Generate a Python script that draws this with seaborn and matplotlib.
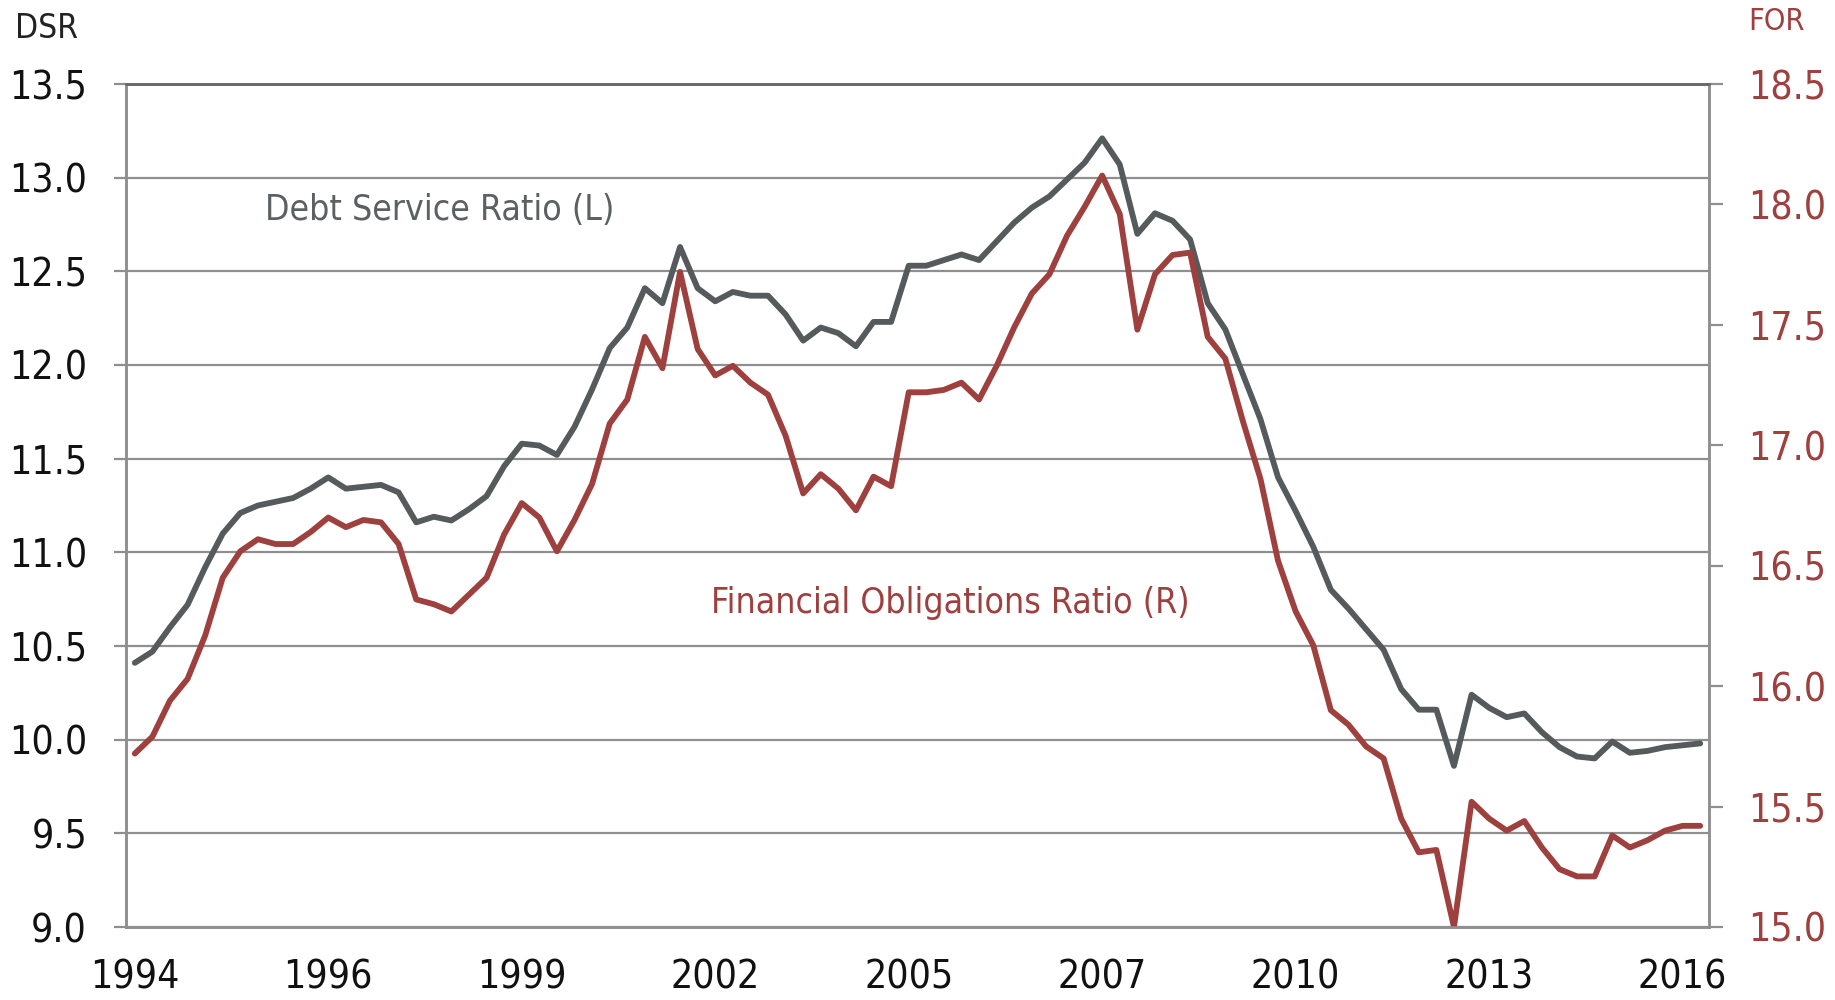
import numpy as np
import pandas as pd
import matplotlib
matplotlib.use("Agg")
import matplotlib.pyplot as plt
import seaborn as sns
from matplotlib import font_manager

# quarterly data, 1994Q1 .. 2016Q2
quarters = [f"{y}Q{q}" for y in range(1994, 2017) for q in range(1, 5)][:90]

dsr = [10.41, 10.47, 10.60, 10.72, 10.92, 11.10, 11.21, 11.25, 11.27, 11.29,
       11.34, 11.40, 11.34, 11.35, 11.36, 11.32, 11.16, 11.19, 11.17, 11.23,
       11.30, 11.46, 11.58, 11.57, 11.52, 11.67, 11.87, 12.09, 12.20, 12.41,
       12.33, 12.63, 12.41, 12.34, 12.39, 12.37, 12.37, 12.27, 12.13, 12.20,
       12.17, 12.10, 12.23, 12.23, 12.53, 12.53, 12.56, 12.59, 12.56, 12.66,
       12.76, 12.84, 12.90, 12.99, 13.08, 13.21, 13.07, 12.70, 12.81, 12.77,
       12.67, 12.33, 12.19, 11.95, 11.71, 11.40, 11.22, 11.03, 10.80, 10.70,
       10.59, 10.48, 10.27, 10.16, 10.16, 9.86, 10.24, 10.17, 10.12, 10.14,
       10.04, 9.96, 9.91, 9.90, 9.99, 9.93, 9.94, 9.96, 9.97, 9.98]

fo_ratio = [15.72, 15.79, 15.94, 16.03, 16.21, 16.45, 16.56, 16.61, 16.59, 16.59,
            16.64, 16.70, 16.66, 16.69, 16.68, 16.59, 16.36, 16.34, 16.31, 16.38,
            16.45, 16.63, 16.76, 16.70, 16.56, 16.69, 16.84, 17.09, 17.19, 17.45,
            17.32, 17.72, 17.40, 17.29, 17.33, 17.26, 17.21, 17.04, 16.80, 16.88,
            16.82, 16.73, 16.87, 16.83, 17.22, 17.22, 17.23, 17.26, 17.19, 17.33,
            17.49, 17.63, 17.71, 17.87, 17.99, 18.12, 17.96, 17.48, 17.71, 17.79,
            17.80, 17.45, 17.36, 17.10, 16.86, 16.52, 16.31, 16.17, 15.90, 15.84,
            15.75, 15.70, 15.45, 15.31, 15.32, 15.00, 15.52, 15.45, 15.40, 15.44,
            15.33, 15.24, 15.21, 15.21, 15.38, 15.33, 15.36, 15.40, 15.42, 15.42]

year_labels = ["1994", "1996", "1999", "2002", "2005", "2007", "2010", "2013", "2016"]
label_every = 11   # one year label every 11 quarters
tick_every = 6     # tick marks every 6 quarters

df = pd.DataFrame({"quarter": quarters, "DSR": dsr, "FOR": fo_ratio})
df["pos"] = np.arange(len(df)) + 0.5   # category centres

grey = "#555a5c"
red = "#9e403e"
gridc = "#8f8f8f"

sns.set_style("white")

# look for a condensed face, the original uses a narrow sans
family, stretch = "Roboto", "normal"
for f in font_manager.fontManager.ttflist:
    st = str(f.stretch).lower()
    if ("condensed" in st or "narrow" in f.name.lower() or "condensed" in f.name.lower()) \
            and "extra" not in st and "ultra" not in st and f.style == "normal":
        family, stretch = f.name, f.stretch
        if f.weight in (400, "normal", "regular"):
            break
plt.rcParams["font.family"] = [family, "DejaVu Sans"]
plt.rcParams["font.stretch"] = stretch

fig = plt.figure(figsize=(18.35, 10), dpi=100)
fig.subplots_adjust(left=126 / 1835, right=1709 / 1835, bottom=0.073, top=0.916)
ax = fig.add_subplot(111)
ax2 = ax.twinx()

sns.lineplot(data=df, x="pos", y="DSR", ax=ax, color=grey, linewidth=4.2, legend=False)
sns.lineplot(data=df, x="pos", y="FOR", ax=ax2, color=red, linewidth=4.2, legend=False)

n = len(df)
ax.set_xlim(0, n)
ax.set_ylim(9.0, 13.5)
ax2.set_ylim(15.0, 18.5)
ax.set_yticks(np.arange(9.0, 13.51, 0.5))
ax.set_yticklabels([f"{v:.1f}" for v in np.arange(9.0, 13.51, 0.5)])
ax2.set_yticks(np.arange(15.0, 18.51, 0.5))
ax2.set_yticklabels([f"{v:.1f}" for v in np.arange(15.0, 18.51, 0.5)])

ax.set_xticks(np.arange(0, n + 1, tick_every))
ax.set_xticklabels([])
ax.set_xticks(np.arange(0, n, label_every) + 0.5, year_labels, minor=True)

ax.set_xlabel("")
ax.set_ylabel("")
ax2.set_ylabel("")

ax.grid(axis="y", color=gridc, linewidth=1.6)
ax.grid(axis="x", visible=False)
ax.set_axisbelow(True)

for a in (ax, ax2):
    for s in a.spines.values():
        s.set_color(gridc)
        s.set_linewidth(1.8)
    a.spines["top"].set_color("#666666")

ax.tick_params(axis="y", which="major", direction="out", length=9, width=1.6,
               color=gridc, labelsize=28, pad=19, labelcolor="#111111")
ax2.tick_params(axis="y", which="major", direction="out", length=10, width=1.6,
                color=gridc, labelsize=28, pad=18, labelcolor=red)
ax.tick_params(axis="x", which="major", direction="inout", length=18, width=1.6,
               color=gridc)
ax.tick_params(axis="x", which="minor", length=0, labelsize=28, pad=23,
               labelcolor="#111111")

ax.text(0.198, 0.851, "Debt Service Ratio (L)", transform=ax.transAxes,
        ha="center", va="center", fontsize=25.5, color="#5b6063")
ax.text(0.521, 0.384, "Financial Obligations Ratio (R)", transform=ax.transAxes,
        ha="center", va="center", fontsize=25.5, color=red)

fig.text(15 / 1835, 1 - 28 / 1000, "DSR", ha="left", va="center",
         fontsize=24, color="#222222")
fig.text(1748 / 1835, 1 - 22 / 1000, "FOR", ha="left", va="center",
         fontsize=22, color=red)

fig.savefig("out.png", dpi=100)
